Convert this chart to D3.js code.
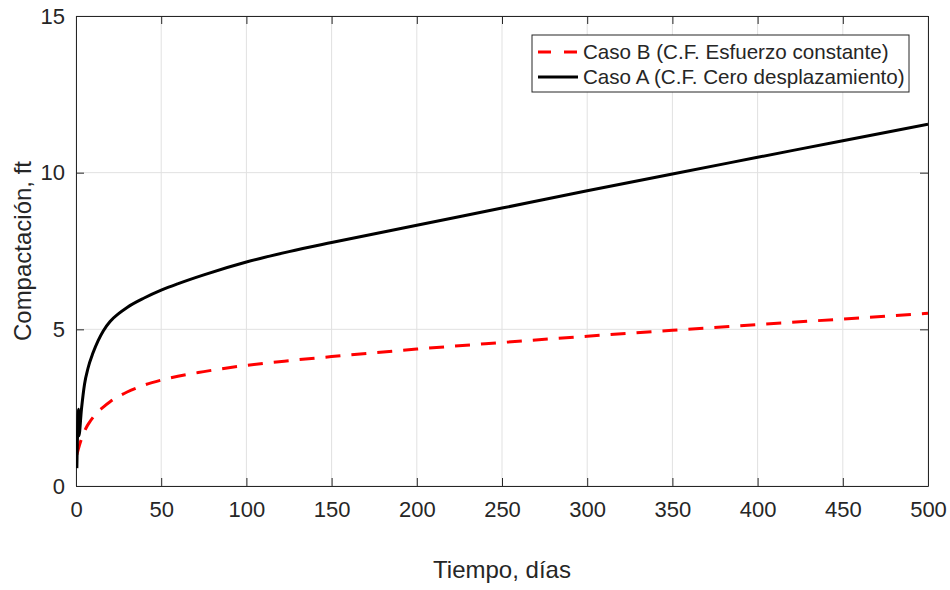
<!DOCTYPE html>
<html>
<head>
<meta charset="utf-8">
<script src="https://cdn.jsdelivr.net/npm/d3@7"></script>
<style>
  body { margin: 0; background: #fff; }
  svg text { font-family: "Liberation Sans", Arial, sans-serif; fill: #262626; }
</style>
</head>
<body>
<svg width="950" height="590"></svg>
<script>
// values
var tiempo_A = [0.5, 1.5, 1.7, 3.2, 5, 7, 10, 13, 16, 20, 25, 30, 40, 50, 60, 75, 100, 125, 150, 200, 250, 300, 350, 400, 450, 500]
var caso_A   = [0.57, 2.45, 1.6, 2.45, 3.25, 3.75, 4.25, 4.64, 4.95, 5.25, 5.5, 5.7, 6.0, 6.25, 6.46, 6.74, 7.15, 7.48, 7.77, 8.32, 8.87, 9.42, 9.96, 10.49, 11.02, 11.55]

var tiempo_B = [0.5, 2, 4, 6, 8, 12, 16, 20, 30, 40, 50, 75, 100, 125, 150, 200, 250, 300, 350, 400, 450, 500]
var caso_B   = [1.0, 1.3, 1.62, 1.86, 2.04, 2.32, 2.52, 2.69, 3.0, 3.22, 3.38, 3.65, 3.85, 4.0, 4.13, 4.37, 4.58, 4.78, 4.97, 5.15, 5.33, 5.51]

var x_ticks = [0, 50, 100, 150, 200, 250, 300, 350, 400, 450, 500]
var y_ticks = [0, 5, 10, 15]

var legend_labels = ["Caso B (C.F. Esfuerzo constante)", "Caso A (C.F. Cero desplazamiento)"]

function to_points(xs, ys) {
    return xs.map(function (t, i) { return { t: t, v: ys[i] }; });
}

function setup_svg() {
    var svg = d3.select("svg"),
        margin = { top: 16, right: 22, bottom: 104, left: 76 },
        width = svg.attr("width") - margin.left - margin.right,
        height = svg.attr("height") - margin.top - margin.bottom,
        g = svg.append("g").attr("transform", "translate(" + margin.left + "," + margin.top + ")");
    return { width, height, g, svg, margin };
}

var { width, height, g, svg, margin } = setup_svg();

var x_scale = d3.scaleLinear().domain([0, 500]).range([0, width]);
var y_scale = d3.scaleLinear().domain([0, 15]).range([height, 0]);

// grid
g.append("g").selectAll("line").data(x_ticks).enter().append("line")
    .attr("x1", d => x_scale(d)).attr("x2", d => x_scale(d))
    .attr("y1", 0).attr("y2", height)
    .attr("stroke", "#e1e1e1").attr("stroke-width", 1);
g.append("g").selectAll("line").data(y_ticks).enter().append("line")
    .attr("y1", d => y_scale(d)).attr("y2", d => y_scale(d))
    .attr("x1", 0).attr("x2", width)
    .attr("stroke", "#e1e1e1").attr("stroke-width", 1);

// axes (ticks point inward, MATLAB style box)
function style_axis(sel) {
    sel.select(".domain").attr("stroke", "#262626");
    sel.selectAll(".tick line").attr("stroke", "#262626");
    sel.selectAll(".tick text").attr("fill", "#262626").style("font-size", "22px")
        .style("font-family", "'Liberation Sans', Arial, sans-serif");
}

g.append("g").attr("transform", "translate(0," + height + ")")
    .call(d3.axisBottom(x_scale).tickValues(x_ticks).tickSizeInner(-8).tickSizeOuter(0).tickPadding(15))
    .call(style_axis);
g.append("g")
    .call(d3.axisTop(x_scale).tickValues(x_ticks).tickSizeInner(-8).tickSizeOuter(0).tickFormat(""))
    .call(style_axis);
g.append("g")
    .call(d3.axisLeft(y_scale).tickValues(y_ticks).tickSizeInner(-8).tickSizeOuter(0).tickPadding(11))
    .call(style_axis);
g.append("g").attr("transform", "translate(" + width + ",0)")
    .call(d3.axisRight(y_scale).tickValues(y_ticks).tickSizeInner(-8).tickSizeOuter(0).tickFormat(""))
    .call(style_axis);

// lines
g.append("clipPath").attr("id", "clip").append("rect")
    .attr("width", width).attr("height", height);

var line = d3.line()
    .x(function (d) { return x_scale(d.t); })
    .y(function (d) { return y_scale(d.v); })
    .curve(d3.curveMonotoneX);

g.append("path")
    .datum(to_points(tiempo_B, caso_B))
    .attr("clip-path", "url(#clip)")
    .attr("fill", "none")
    .attr("stroke", "#ff0000")
    .attr("stroke-width", 3)
    .attr("stroke-dasharray", "15,11")
    .attr("d", line);

g.append("path")
    .datum(to_points(tiempo_A, caso_A))
    .attr("clip-path", "url(#clip)")
    .attr("fill", "none")
    .attr("stroke", "#000")
    .attr("stroke-width", 3)
    .attr("d", line);

// axis labels
svg.append("text")
    .attr("x", margin.left + width / 2)
    .attr("y", 578)
    .attr("text-anchor", "middle")
    .style("font-size", "24px")
    .text("Tiempo, días");

svg.append("text")
    .attr("transform", "translate(31," + (margin.top + height / 2) + ") rotate(-90)")
    .attr("text-anchor", "middle")
    .style("font-size", "24px")
    .text("Compactación, ft");

// legend
var legend = svg.append("g").attr("transform", "translate(532,35)");
legend.append("rect")
    .attr("width", 377).attr("height", 57)
    .attr("fill", "#fff").attr("stroke", "#262626").attr("stroke-width", 1);

var legend_styles = [
    { color: "#ff0000", dash: "13,13" },
    { color: "#000", dash: null }
];

legend_labels.forEach(function (label, i) {
    var yy = 17 + i * 25;
    legend.append("line")
        .attr("x1", 6).attr("x2", 46).attr("y1", yy).attr("y2", yy)
        .attr("stroke", legend_styles[i].color).attr("stroke-width", 3)
        .attr("stroke-dasharray", legend_styles[i].dash);
    legend.append("text")
        .attr("x", 51).attr("y", yy).attr("dy", "0.35em")
        .style("font-size", "20.6px")
        .text(label);
});
</script>
</body>
</html>
